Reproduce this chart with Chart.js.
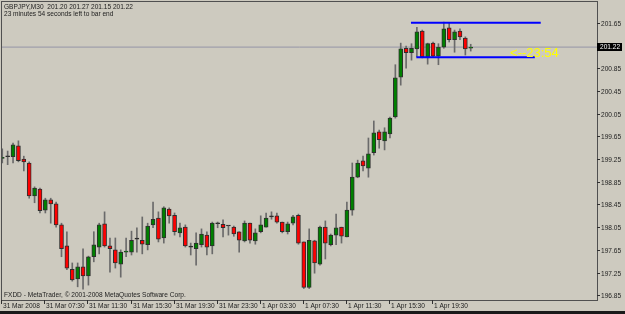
<!DOCTYPE html>
<html>
<head>
<meta charset="utf-8">
<script src="https://cdn.jsdelivr.net/npm/chart.js@4.4.0/dist/chart.umd.min.js"></script>
<style>
    html, body { margin: 0; padding: 0; background: #cdcabf; }
    #grafico { display: block; }
</style>
</head>
<body>
<canvas id="grafico" width="625" height="314"></canvas>
<script>
let grafico; // global chart

// GBPJPY M30 candles
const symbol = 'GBPJPY,M30';
const opens = [
    199.26, 199.29, 199.29, 199.48, 199.25, 199.18, 198.60, 198.72, 198.35, 198.53,
    198.46, 198.09, 197.72, 197.31, 197.14, 197.35, 197.19, 197.53, 197.70, 198.11,
    197.72, 197.65, 197.40, 197.61, 197.61, 197.84, 197.82, 197.74, 198.09, 198.21,
    197.86, 198.37, 198.26, 197.95, 198.05, 197.70, 197.67, 197.74, 197.91, 197.72,
    198.11, 198.10, 198.07, 198.05, 197.97, 197.81, 198.12, 197.81, 197.97, 198.05,
    198.23, 198.25, 198.14, 197.97, 198.12, 198.26, 197.79, 196.99, 197.81, 197.40,
    198.05, 197.74, 197.91, 198.05, 197.88, 198.35, 198.93, 199.22, 199.09, 199.36,
    199.73, 199.57, 199.69, 199.99, 200.69, 201.20, 201.12, 201.19, 201.50, 201.05,
    201.29, 201.06, 201.22, 201.56, 201.35, 201.50, 201.38, 201.20
];
const highs = [
    199.43, 199.39, 199.53, 199.57, 199.30, 199.20, 198.76, 198.74, 198.56, 198.56,
    198.49, 198.12, 197.97, 197.42, 197.42, 197.67, 197.54, 197.97, 198.12, 198.32,
    197.86, 197.86, 197.65, 197.86, 197.98, 198.04, 198.23, 198.12, 198.49, 198.32,
    198.41, 198.39, 198.30, 198.12, 198.09, 197.77, 197.95, 198.02, 197.97, 198.14,
    198.14, 198.18, 198.07, 198.07, 197.97, 198.16, 198.12, 198.02, 198.25, 198.30,
    198.32, 198.30, 198.14, 198.14, 198.26, 198.28, 197.79, 198.02, 197.82, 198.07,
    198.16, 197.93, 198.28, 198.05, 198.49, 199.18, 199.23, 199.30, 199.62, 199.92,
    199.76, 199.80, 199.99, 200.91, 201.29, 201.24, 201.28, 201.57, 201.52, 201.29,
    201.31, 201.28, 201.66, 201.64, 201.52, 201.54, 201.40, 201.27
];
const lows = [
    199.18, 199.15, 199.18, 199.20, 199.04, 198.56, 198.48, 198.30, 198.30, 198.12,
    198.05, 197.53, 197.30, 197.10, 197.00, 196.96, 197.03, 197.44, 197.58, 197.70,
    197.26, 197.33, 197.17, 197.53, 197.56, 197.61, 197.58, 197.65, 198.04, 197.79,
    197.77, 198.12, 197.91, 197.88, 197.70, 197.56, 197.38, 197.70, 197.56, 197.58,
    198.04, 197.88, 197.91, 197.89, 197.61, 197.79, 197.77, 197.75, 197.95, 198.05,
    198.19, 198.12, 197.95, 197.93, 198.09, 197.75, 196.97, 196.97, 197.24, 197.38,
    197.49, 197.72, 197.74, 197.77, 197.88, 198.26, 198.92, 199.04, 198.93, 199.32,
    199.44, 199.41, 199.62, 199.97, 200.55, 200.85, 200.99, 201.05, 201.03, 200.92,
    201.05, 200.91, 201.20, 201.31, 201.13, 201.35, 201.08, 201.15
];
const closes = [
    199.28, 199.29, 199.50, 199.22, 199.20, 198.60, 198.74, 198.34, 198.53, 198.46,
    198.09, 197.67, 197.33, 197.12, 197.35, 197.19, 197.53, 197.74, 198.09, 197.72,
    197.67, 197.42, 197.61, 197.63, 197.82, 197.84, 197.75, 198.07, 198.19, 197.84,
    198.39, 198.25, 197.97, 198.04, 197.72, 197.70, 197.77, 197.93, 197.70, 198.12,
    198.11, 198.04, 198.07, 197.93, 197.82, 198.12, 197.82, 197.95, 198.09, 198.21,
    198.23, 198.14, 197.97, 198.11, 198.23, 197.77, 196.99, 197.82, 197.42, 198.05,
    197.77, 197.91, 198.04, 197.89, 198.35, 198.93, 199.18, 199.13, 199.34, 199.71,
    199.59, 199.73, 199.97, 200.68, 201.19, 201.12, 201.20, 201.49, 201.05, 201.28,
    201.06, 201.22, 201.54, 201.35, 201.49, 201.40, 201.19, 201.22
];

// time axis labels (every 8 bars)
const timeLabels = ['31 Mar 2008', '31 Mar 07:30', '31 Mar 11:30', '31 Mar 15:30', '31 Mar 19:30',
    '31 Mar 23:30', '1 Apr 03:30', '1 Apr 07:30', '1 Apr 11:30', '1 Apr 15:30', '1 Apr 19:30'];
const timeLabelBars = [0, 8, 16, 24, 32, 40, 48, 56, 64, 72, 80];

// price axis labels
const priceTicks = [196.85, 197.25, 197.65, 198.05, 198.45, 198.85, 199.25, 199.65, 200.05, 200.45, 200.85, 201.65];

// the two blue lines drawn by hand on the chart
const levelPrices = [201.65, 201.04];
const levelFrom = [75.9, 76.9];
const levelTo = [100.0, 98.9];

const barsLeft = '23 minutes 54 seconds left to bar end';
const clockText = '<--23:54';
const copyright = 'FXDD - MetaTrader, \u00a9 2001-2008 MetaQuotes Software Corp.';

// colours
const BG = '#cdcabf';
const TXT = '#1c1c1c';
const FONT = '8px "Liberation Sans", sans-serif';
const SQUEEZE = 0.82; // the terminal font is narrower than Liberation

const n = opens.length;
const last = n - 1;
const xMin = -0.05, xMax = 110.45;

const wickData = opens.map((o, i) => ({ x: i, y: [lows[i], highs[i]] }));
const bodyData = opens.map((o, i) => ({ x: i, y: [o, closes[i]] }));
const bodyColors = opens.map((o, i) => closes[i] > o ? '#008000' : (closes[i] < o ? '#ff0000' : '#222222'));

const levelSets = levelPrices.map((p, k) => ({
    type: 'line',
    data: [{ x: levelFrom[k], y: p }, { x: levelTo[k], y: p }],
    borderColor: '#0000ff',
    borderWidth: 2,
    pointRadius: 0,
    order: 1
}));

// narrow text
function smallText(ctx, txt, x, y) {
    ctx.save();
    ctx.translate(x, y);
    ctx.scale(SQUEEZE, 1);
    ctx.fillText(txt, 0, 0);
    ctx.restore();
}

// MetaTrader style frame, axes and texts
const mtDecor = {
    id: 'mtDecor',
    beforeDraw(chart) {
        const ctx = chart.ctx;
        ctx.save();
        ctx.fillStyle = BG;
        ctx.fillRect(0, 0, chart.width, chart.height);
        ctx.restore();
    },
    afterDraw(chart) {
        const ctx = chart.ctx;
        const a = chart.chartArea;
        const xs = chart.scales.x;
        const ys = chart.scales.y;
        ctx.save();

        // frame
        ctx.strokeStyle = '#505050';
        ctx.lineWidth = 1;
        ctx.strokeRect(a.left - 0.5, a.top - 0.5, a.right - a.left + 1, a.bottom - a.top + 1);

        ctx.font = FONT;
        ctx.fillStyle = TXT;
        ctx.strokeStyle = '#303030';

        // price axis
        ctx.textAlign = 'left';
        ctx.textBaseline = 'middle';
        priceTicks.forEach(p => {
            const y = Math.round(ys.getPixelForValue(p)) + 0.5;
            ctx.beginPath();
            ctx.moveTo(a.right, y);
            ctx.lineTo(a.right + 3, y);
            ctx.stroke();
            smallText(ctx, p.toFixed(2), a.right + 4, y);
        });

        // current price box
        const py = Math.round(ys.getPixelForValue(closes[last]));
        ctx.fillStyle = '#000000';
        ctx.fillRect(a.right, py - 4, 25, 8);
        ctx.fillStyle = '#ffffff';
        smallText(ctx, closes[last].toFixed(2), a.right + 3, py);

        // time axis
        ctx.fillStyle = TXT;
        ctx.textBaseline = 'alphabetic';
        timeLabelBars.forEach((b, k) => {
            const x = Math.round(xs.getPixelForValue(b)) - 0.5;
            ctx.beginPath();
            ctx.moveTo(x, a.bottom);
            ctx.lineTo(x, a.bottom + 4);
            ctx.stroke();
            smallText(ctx, timeLabels[k], x + 1.5, a.bottom + 8);
        });

        // header and footer texts
        const head = symbol + '  ' + [opens[last], highs[last], lows[last], closes[last]].map(v => v.toFixed(2)).join(' ');
        smallText(ctx, head, a.left + 2, 9);
        smallText(ctx, barsLeft, a.left + 2, 16);
        smallText(ctx, copyright, a.left + 2, a.bottom - 3);

        // bar clock
        ctx.font = '13px "Liberation Sans", sans-serif';
        ctx.fillStyle = '#ffff00';
        ctx.textBaseline = 'middle';
        ctx.fillText(clockText, xs.getPixelForValue(94.3), ys.getPixelForValue(201.105));

        // bottom strip
        ctx.fillStyle = '#1a1a1a';
        ctx.fillRect(0, chart.height - 3, chart.width, 3);
        ctx.restore();
    }
};

const ctx = document.getElementById('grafico').getContext('2d');
grafico = new Chart(ctx, {
    type: 'bar',
    data: {
        datasets: [
            {
                type: 'line',
                data: [{ x: xMin, y: closes[last] }, { x: xMax, y: closes[last] }],
                borderColor: '#9494a6',
                borderWidth: 1,
                pointRadius: 0,
                order: 5
            },
            {
                data: wickData,
                backgroundColor: '#6a6a6a',
                barThickness: 1,
                grouped: false,
                order: 4
            },
            {
                data: bodyData,
                backgroundColor: bodyColors,
                borderColor: '#2e2e2e',
                borderWidth: 1,
                borderSkipped: false,
                barThickness: 4,
                minBarLength: 1,
                grouped: false,
                order: 3
            },
            ...levelSets
        ]
    },
    options: {
        responsive: false,
        animation: false,
        devicePixelRatio: 1,
        layout: { padding: { left: 2, top: 2, right: 28, bottom: 14 } },
        plugins: { legend: { display: false }, tooltip: { enabled: false } },
        scales: {
            x: { type: 'linear', min: xMin, max: xMax, offset: false, display: false },
            y: { type: 'linear', min: 196.768, max: 202.014, display: false }
        }
    },
    plugins: [mtDecor]
});
</script>
</body>
</html>
